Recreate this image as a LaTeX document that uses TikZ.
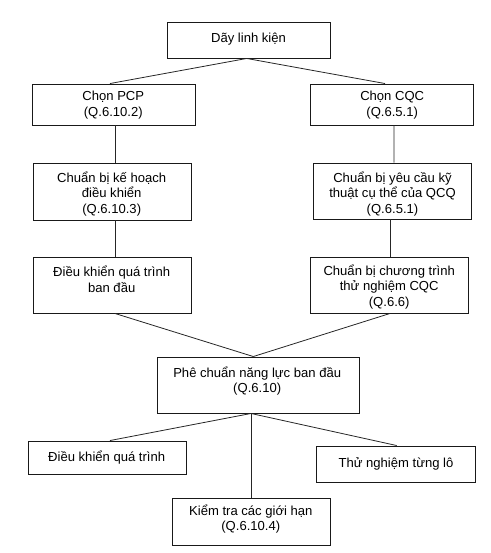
\documentclass[tikz,border=0pt]{standalone}
\usepackage{fontspec}
\setmainfont{Liberation Sans}
\usetikzlibrary{calc}
\begin{document}
\begin{tikzpicture}[x=0.75pt,y=-0.75pt,
  box/.style={draw=black!90,line width=0.7pt,inner sep=0pt,rectangle},
  txt/.style={inner sep=0pt,align=center,font=\fontsize{9.8}{11.6}\selectfont},
  conn/.style={draw=black!85,line width=0.6pt}]
\useasboundingbox (0,0) rectangle (491,553);
% boxes
\node[box,minimum width=163*0.75pt,minimum height=36*0.75pt] (top) at (248.5,40) {};
\node[box,minimum width=163*0.75pt,minimum height=41*0.75pt] (pcp) at (113.5,104.5) {};
\node[box,minimum width=163*0.75pt,minimum height=41*0.75pt] (cqc) at (391.5,104.5) {};
\node[box,minimum width=158*0.75pt,minimum height=57*0.75pt] (khh) at (112,191.5) {};
\node[box,minimum width=158.5*0.75pt,minimum height=56*0.75pt] (ycq) at (392.3,191) {};
\node[box,minimum width=158*0.75pt,minimum height=56*0.75pt] (dkbd) at (112,285) {};
\node[box,minimum width=158*0.75pt,minimum height=56*0.75pt] (ctr) at (389,285) {};
\node[box,minimum width=202*0.75pt,minimum height=56*0.75pt] (pc) at (258,385) {};
\node[box,minimum width=158*0.75pt,minimum height=33*0.75pt] (dkqt) at (107,457.5) {};
\node[box,minimum width=159*0.75pt,minimum height=36*0.75pt] (tn) at (395.5,464) {};
\node[box,minimum width=158*0.75pt,minimum height=47*0.75pt] (kt) at (251,521.5) {};
% texts
\node[txt] (ttop) at (248.5,39) {Dãy linh kiện};
\node[txt] (tpcp) at (113.3,105) {Chọn PCP\\(Q.6.10.2)};
\node[txt] (tcqc) at (392.2,105) {Chọn CQC\\(Q.6.5.1)};
\node[txt] (tkhh) at (111.7,194) {Chuẩn bị kế hoạch\\điều khiển\\(Q.6.10.3)};
\node[txt] (tycq) at (392.5,194) {Chuẩn bị yêu cầu kỹ\\thuật cụ thể của QCQ\\(Q.6.5.1)};
\node[txt] (tdkbd) at (111.7,279.2) {Điều khiển quá trình\\ban đầu};
\node[txt] (tctr) at (389.2,287) {Chuẩn bị chương trình\\thử nghiệm CQC\\(Q.6.6)};
\node[txt] (tpc) at (257.2,381.2) {Phê chuẩn năng lực ban đầu\\(Q.6.10)};
\node[txt] (tdkqt) at (106.7,457.5) {Điều khiển quá trình};
\node[txt] (ttn) at (396,463.5) {Thử nghiệm từng lô};
\node[txt] (tkt) at (250.8,519) {Kiểm tra các giới hạn\\(Q.6.10.4)};
% connectors
\draw[conn] ($(top.south)+(-1.8,0)$) -- ($(pcp.north)+(-3.5,0)$);
\draw[conn] ($(top.south)+(-1.8,0)$) -- ($(cqc.north)+(-6.5,0)$);
\draw[conn] ($(pcp.south)+(1.5,0)$) -- ($(khh.north)+(3,0)$);
\draw[conn] ($(cqc.south)+(2.5,0)$) -- ($(ycq.north)+(1.7,0)$);
\draw[conn] ($(khh.south)+(3,0)$) -- ($(dkbd.north)+(3,0)$);
\draw[conn] ($(ycq.south)+(-1.6,0)$) -- ($(ctr.north)+(1.7,0)$);
\draw[conn] ($(dkbd.south)+(3,0)$) -- ($(pc.north)+(-4.7,0)$);
\draw[conn] ($(ctr.south)+(1,0)$) -- ($(pc.north)+(-4.7,0)$);
\draw[conn] ($(pc.south)+(-7,0)$) -- ($(dkqt.north)+(3,0)$);
\draw[conn] ($(pc.south)+(-7,0)$) -- ($(tn.north)+(1.2,0)$);
\draw[conn] ($(pc.south)+(-7,0)$) -- (kt.north);
\end{tikzpicture}
\end{document}
